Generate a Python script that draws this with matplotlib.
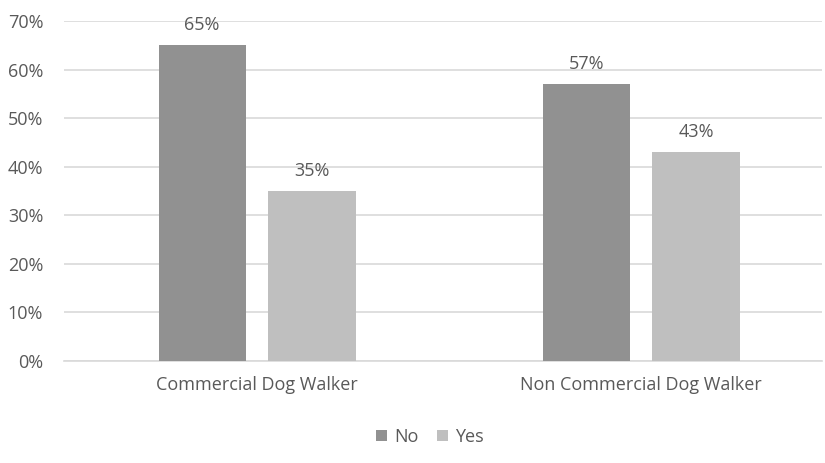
import matplotlib
matplotlib.use("Agg")
import matplotlib.pyplot as plt
from matplotlib.ticker import FuncFormatter, MultipleLocator
import numpy as np

categories = ["Commercial Dog Walker", "Non Commercial Dog Walker"]
series_names = ["No", "Yes"]
no_values = [65, 57]
yes_values = [35, 43]

colors = {"No": "#919191", "Yes": "#bfbfbf"}
text_color = "#595959"
fs = 13

plt.rcParams["font.family"] = ["Open Sans", "DejaVu Sans"]

fig = plt.figure(figsize=(8.25, 4.63), dpi=100)
ax = fig.add_axes([64 / 825, 102 / 463, 758 / 825, 340 / 463])

x = np.arange(len(categories))
width = 0.227
offset = 0.143

bars_no = ax.bar(x - offset, np.array(no_values) / 100, width, color=colors["No"], label="No", zorder=3)
bars_yes = ax.bar(x + offset, np.array(yes_values) / 100, width, color=colors["Yes"], label="Yes", zorder=3)

for bars, vals in ((bars_no, no_values), (bars_yes, yes_values)):
    for b, v in zip(bars, vals):
        ax.annotate(f"{v}%", (b.get_x() + b.get_width() / 2, v / 100),
                    xytext=(0, 8), textcoords="offset points",
                    ha="center", va="bottom", fontsize=fs, color=text_color)

ax.set_ylim(0, 0.70)
ax.set_xlim(-0.5026, 1.471)
ax.yaxis.set_major_locator(MultipleLocator(0.10))
ax.yaxis.set_major_formatter(FuncFormatter(lambda v, p: f"{v * 100:.0f}%"))
ax.grid(axis="y", color="#d9d9d9", linewidth=1.2, zorder=0)
ax.set_axisbelow(True)

for s in ("top", "right", "left"):
    ax.spines[s].set_visible(False)
ax.spines["bottom"].set_color("#d9d9d9")
ax.spines["bottom"].set_linewidth(1.2)

ax.set_xticks(x)
ax.set_xticklabels(categories)
ax.tick_params(axis="both", length=0, labelsize=fs, labelcolor=text_color)
ax.tick_params(axis="x", pad=11)
ax.tick_params(axis="y", pad=15)

fig.legend(handles=[bars_no, bars_yes], labels=series_names, loc="center",
           bbox_to_anchor=(430 / 825, 1 - 437 / 463), ncol=2, frameon=False,
           fontsize=fs, labelcolor=text_color, handlelength=0.6, handleheight=0.6,
           handletextpad=0.4, columnspacing=1.0)

fig.savefig("out.png", dpi=100)
